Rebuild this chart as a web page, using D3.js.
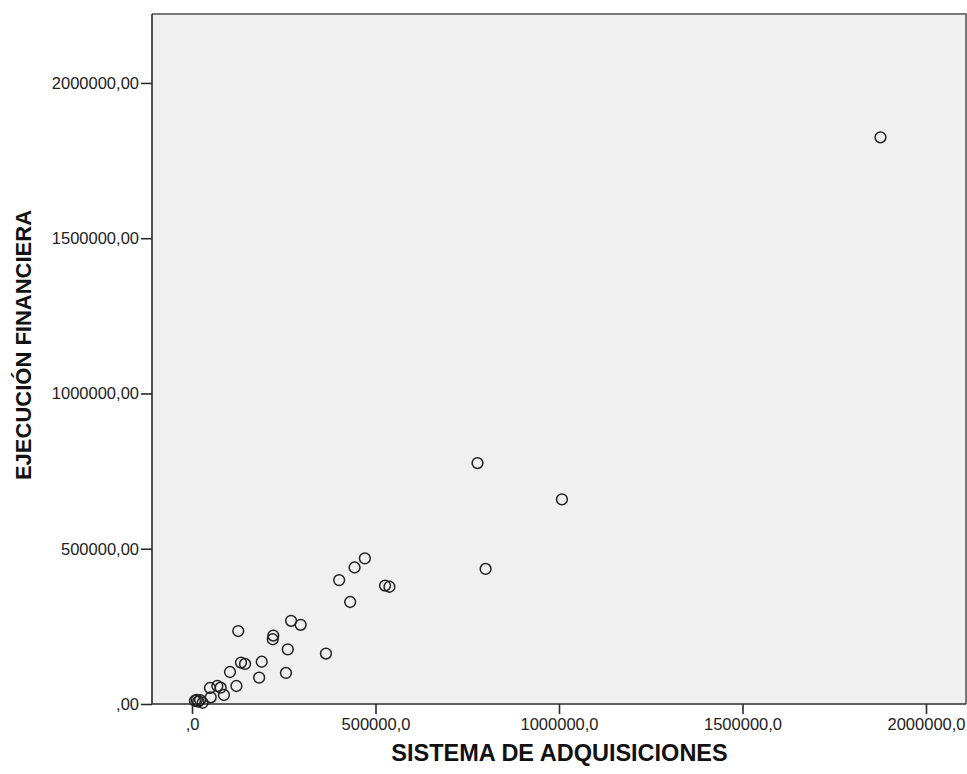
<!DOCTYPE html>
<html>
<head>
<meta charset="utf-8">
<script src="https://cdn.jsdelivr.net/npm/d3@7"></script>
<style>
  html, body { margin: 0; padding: 0; background: #ffffff; }
  svg { display: block; }
</style>
</head>
<body>
<script>
// Sistema de adquisiciones (x) vs. ejecución financiera (y)
const adquisiciones = [
  1876000, 778000, 1008000, 800000, 471000, 443000, 401000, 526000, 538000, 431000,
  126000, 270000, 296000, 221500, 220000, 261000, 365000, 190000, 256000, 183000,
  133500, 144500, 103500, 121000, 49000, 69000, 78000, 87000, 51000, 13000,
  17000, 29000, 8000, 22000
];
const ejecucion = [
  1825000, 776000, 659000, 435000, 469000, 439500, 399000, 381500, 377500, 328500,
  235000, 268000, 255000, 220500, 208500, 176000, 162500, 136000, 100000, 85000,
  133500, 129000, 103000, 58000, 51500, 58000, 52500, 29000, 21500, 13000,
  7500, 4000, 10500, 12500
];
const xTicks = [0, 500000, 1000000, 1500000, 2000000];
const yTicks = [0, 500000, 1000000, 1500000, 2000000];
const xTickLabels = [",0", "500000,0", "1000000,0", "1500000,0", "2000000,0"];
const yTickLabels = [",00", "500000,00", "1000000,00", "1500000,00", "2000000,00"];
const xTitle = "SISTEMA DE ADQUISICIONES";
const yTitle = "EJECUCIÓN FINANCIERA";

const W = 967, H = 774;
const plot = { left: 152, top: 14, right: 966, bottom: 704 };

const x = d3.scaleLinear().domain([-109000, 2109000]).range([plot.left, plot.right]);
const y = d3.scaleLinear().domain([0, 2222000]).range([plot.bottom, plot.top]);

const svg = d3.select("body").append("svg").attr("width", W).attr("height", H);

// plot background
svg.append("rect")
  .attr("x", plot.left).attr("y", plot.top)
  .attr("width", plot.right - plot.left).attr("height", plot.bottom - plot.top)
  .attr("fill", "#f0f0f0");

// frame: top and right in grey
svg.append("path")
  .attr("d", `M${plot.left},${plot.top}H${plot.right}V${plot.bottom}`)
  .attr("fill", "none").attr("stroke", "#7a7a7a").attr("stroke-width", 2);

const fontTick = "Arial, 'Liberation Sans', sans-serif";

// x axis
const xAxis = d3.axisBottom(x).tickValues(xTicks).tickSize(10).tickPadding(4)
  .tickFormat((d, i) => xTickLabels[i]);
const gx = svg.append("g").attr("transform", `translate(0,${plot.bottom})`).call(xAxis);
gx.select(".domain").attr("d", `M${plot.left},0H${plot.right}`).attr("stroke", "#2a2a2a").attr("stroke-width", 1.6);
gx.selectAll(".tick line").attr("stroke", "#2a2a2a").attr("stroke-width", 1.6);
gx.selectAll(".tick text").attr("fill", "#222").attr("font-size", "16.5px").attr("font-family", fontTick);

// y axis
const yAxis = d3.axisLeft(y).tickValues(yTicks).tickSize(11).tickPadding(2)
  .tickFormat((d, i) => yTickLabels[i]);
const gy = svg.append("g").attr("transform", `translate(${plot.left},0)`).call(yAxis);
gy.select(".domain").attr("d", `M0,${plot.top}V${plot.bottom}`).attr("stroke", "#2a2a2a").attr("stroke-width", 1.6);
gy.selectAll(".tick line").attr("stroke", "#2a2a2a").attr("stroke-width", 1.6);
gy.selectAll(".tick text").attr("fill", "#222").attr("font-size", "16.5px").attr("font-family", fontTick);

// points
const pts = adquisiciones.map((v, i) => ({ a: v, e: ejecucion[i] }));
svg.append("g").selectAll("circle").data(pts).join("circle")
  .attr("cx", d => x(d.a)).attr("cy", d => y(d.e)).attr("r", 5.4)
  .attr("fill", "none").attr("stroke", "#222").attr("stroke-width", 1.5);

// axis titles
svg.append("text")
  .attr("x", 559.5).attr("y", 761)
  .attr("text-anchor", "middle")
  .attr("font-family", fontTick).attr("font-weight", "bold").attr("font-size", "23.5px")
  .attr("fill", "#111").text(xTitle);

svg.append("text")
  .attr("transform", `translate(31,345) rotate(-90)`)
  .attr("text-anchor", "middle")
  .attr("font-family", fontTick).attr("font-weight", "bold").attr("font-size", "22px")
  .attr("fill", "#111").text(yTitle);
</script>
</body>
</html>
